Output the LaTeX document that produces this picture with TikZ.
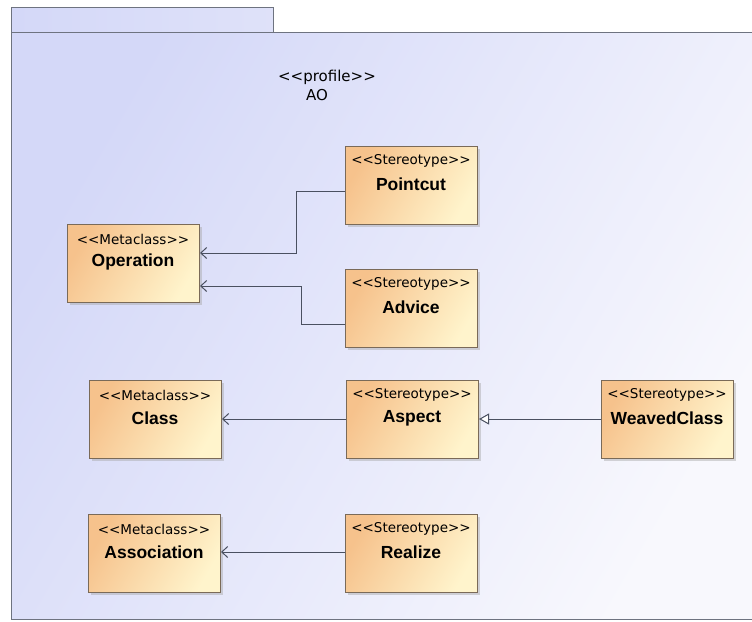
\documentclass[tikz,border=0pt]{standalone}
\usepackage{fontspec}
\setmainfont{Liberation Sans}[Ligatures=ResetAll]
\newfontfamily\stfont{DejaVu Sans}[Ligatures=ResetAll]
\usetikzlibrary{arrows.meta}
\definecolor{pkgA}{HTML}{D4D8F8}
\definecolor{pkgB}{HTML}{F8F8FD}
\definecolor{boxA}{HTML}{F6C28C}
\definecolor{boxB}{HTML}{FFF4CC}
\definecolor{edge}{HTML}{4A5060}
\definecolor{boxline}{HTML}{7A6A58}
\tikzset{
  umlbox/.style={draw=boxline, line width=1pt, left color=boxA, right color=boxB, shading angle=60, minimum width=132pt, minimum height=78pt, inner sep=0pt, anchor=north west},
  shadowbox/.style={fill=black!35, opacity=0.45},
  stereo/.style={font=\stfont\fontsize{13.5}{13.5}\selectfont, inner sep=0pt, anchor=center},
  bname/.style={font=\fontsize{17.5}{17.5}\selectfont\bfseries, inner sep=0pt, anchor=center},
  ptext/.style={font=\stfont\fontsize{15}{15}\selectfont, inner sep=0pt},
  dep/.style={draw=edge, line width=1pt, -{Straight Barb[length=6pt,width=11pt]}},
  gen/.style={draw=edge, line width=1pt, -{Triangle[open,length=10pt,width=11pt,fill=white]}}
}
\newcommand{\umlnode}[5]{%
  \fill[shadowbox] (#2+3,#3+3) rectangle (#2+135,#3+81);
  \node[umlbox] (#1) at (#2,#3) {};
  \node[stereo] (#1-st) at (#2+66,#3+15) {#4};
  \node[bname] (#1-nm) at (#2+66,#3+38) {#5};
}
\begin{document}
\begin{tikzpicture}[x=1pt,y=-1pt]
\useasboundingbox (0,0) rectangle (752,621);
\fill[white] (0,0) rectangle (752,621);
% package
\path[draw=edge!80, line width=1pt, left color=pkgA, right color=pkgA!70!pkgB, shading angle=90] (11,7) rectangle (273,32);
\path[draw=edge!80, line width=1pt, left color=pkgA, right color=pkgB, shading angle=60] (11,32) rectangle (760,619);
\node[ptext] (prof) at (327,77) {<{}<profile>{}>};
\node[ptext] (ao) at (317,95) {AO};
% boxes
\umlnode{op}{67}{224}{<{}<Metaclass>{}>}{Operation}
\umlnode{pc}{345}{146}{<{}<Stereotype>{}>}{Pointcut}
\umlnode{ad}{345}{269}{<{}<Stereotype>{}>}{Advice}
\umlnode{cl}{89}{380}{<{}<Metaclass>{}>}{Class}
\umlnode{as}{346}{380}{<{}<Stereotype>{}>}{Aspect}
\umlnode{wc}{601}{380}{<{}<Stereotype>{}>}{WeavedClass}
\umlnode{asn}{88}{514}{<{}<Metaclass>{}>}{Association}
\umlnode{re}{345}{514}{<{}<Stereotype>{}>}{Realize}
% connectors
\draw[dep] (pc.west |- 0,191) -- (296,191) -- (296,253) -- (op.east |- 0,253);
\draw[dep] (ad.west |- 0,324) -- (301,324) -- (301,286) -- (op.east |- 0,286);
\draw[dep] (as.west |- 0,419) -- (cl.east |- 0,419);
\draw[gen] (wc.west |- 0,419) -- (as.east |- 0,419);
\draw[dep] (re.west |- 0,552) -- (asn.east |- 0,552);
\end{tikzpicture}
\end{document}
